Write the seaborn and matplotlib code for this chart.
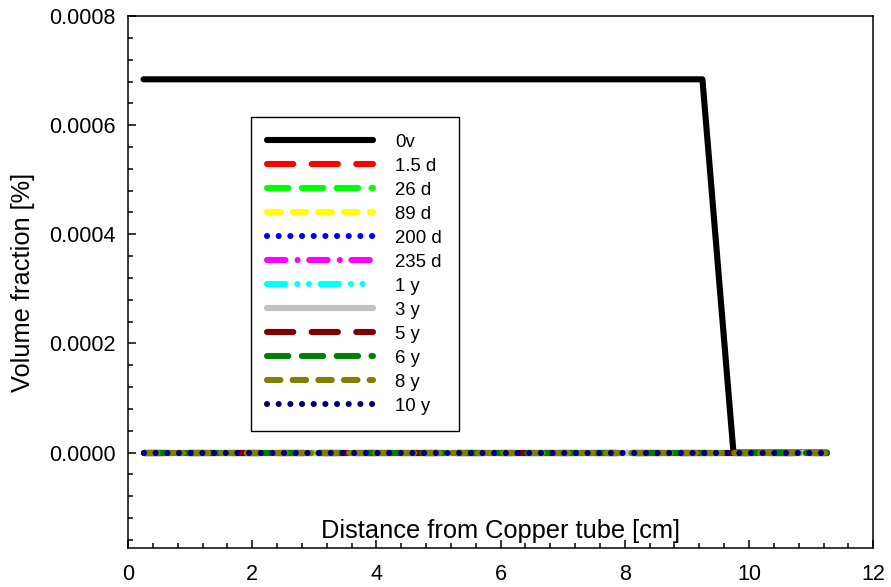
import numpy as np
import pandas as pd
import matplotlib
matplotlib.use("Agg")
import matplotlib.pyplot as plt
import seaborn as sns

# ---- data ----
labels = ["0v", "1.5 d", "26 d", "89 d", "200 d", "235 d", "1 y", "3 y", "5 y", "6 y", "8 y", "10 y"]
colors = ["#000000", "#ff0000", "#00ff00", "#ffff00", "#0000ff", "#ff00ff", "#00ffff",
          "#c0c0c0", "#800000", "#008000", "#808000", "#000080"]
x_0v = [0.25, 9.25, 9.75, 11.25]
y_0v = [0.000684, 0.000684, 0.0, 0.0]
x_other = [0.25, 11.25]
y_other = [0.0, 0.0]
x_ticks = [0, 2, 4, 6, 8, 10, 12]
y_ticks = [0.0, 0.0002, 0.0004, 0.0006, 0.0008]

# dash patterns (in linewidth units)
long_dash = (0, (4.3, 3.0))
mid_dash = (0, (3.5, 2.2))
short_dash = (0, (2.2, 2.0))
dots = (0, (0.01, 1.9))
dash_dot = (0, (3.0, 2.0, 0.01, 1.9))
dash_dot_dot = (0, (3.0, 1.95, 0.01, 1.9, 0.01, 1.9))
styles = ["-", long_dash, mid_dash, short_dash, dots, dash_dot, dash_dot_dot,
          "-", long_dash, mid_dash, short_dash, dots]

sns.set_style("ticks")
plt.rcParams["font.family"] = ["Liberation Sans", "DejaVu Sans"]
plt.rcParams["text.color"] = "black"
plt.rcParams["axes.labelcolor"] = "black"
plt.rcParams["xtick.color"] = "black"
plt.rcParams["ytick.color"] = "black"

fig = plt.figure(figsize=(8.91, 5.87), dpi=100)
ax = fig.add_axes([0.1437, 0.0664, 0.98 - 0.1437, 0.9727 - 0.0664])

lw = 4.4
for i, (lab, col, ls) in enumerate(zip(labels, colors, styles)):
    if i == 0:
        xs, ys = x_0v, y_0v
    else:
        xs, ys = x_other, y_other
    df = pd.DataFrame({"x": xs, "y": ys})
    sns.lineplot(data=df, x="x", y="y", ax=ax, color=col, lw=lw, linestyle=ls,
                 label=lab, sort=False, estimator=None,
                 dash_capstyle="round", solid_capstyle="round",
                 solid_joinstyle="round", dash_joinstyle="round")

ax.set_xlim(0, 12)
ax.set_ylim(-0.000175, 0.0008)
ax.set_xticks(x_ticks)
ax.set_xticklabels([str(t) for t in x_ticks])
ax.set_yticks(y_ticks)
ax.set_yticklabels([f"{t:.4f}" for t in y_ticks])
ax.xaxis.set_minor_locator(matplotlib.ticker.MultipleLocator(0.4))
ax.yaxis.set_minor_locator(matplotlib.ticker.MultipleLocator(0.00004))
ax.tick_params(which="both", direction="in", top=False, right=False, width=1.1,
               color="black", labelcolor="black")
ax.tick_params(which="major", length=6, labelsize=15.5)
ax.tick_params(which="minor", length=3.5)
ax.tick_params(axis="x", pad=11.5)
ax.tick_params(axis="y", pad=9)
for s in ax.spines.values():
    s.set_visible(True)
    s.set_linewidth(1.1)
    s.set_color("black")

ax.set_ylabel("Volume fraction [%]", fontsize=18.3, color="black")
ax.yaxis.label.set_va("center")
ax.yaxis.set_label_coords(-0.141, 0.5)
ax.set_xlabel("Distance from Copper tube [cm]", fontsize=18.3, color="black")
ax.xaxis.label.set_va("baseline")
ax.xaxis.set_label_coords(0.5, 0.0188)

leg = ax.legend(loc="upper left", bbox_to_anchor=(0.165, 0.81), borderaxespad=0,
                fontsize=13.4, handlelength=5.7, handletextpad=1.18,
                borderpad=0.88, labelspacing=0.375, fancybox=False, frameon=True)
leg.get_frame().set_edgecolor("black")
leg.get_frame().set_linewidth(1.0)
leg.get_frame().set_alpha(1)
for t in leg.get_texts():
    t.set_color("black")

fig.savefig("out.png", dpi=100)
